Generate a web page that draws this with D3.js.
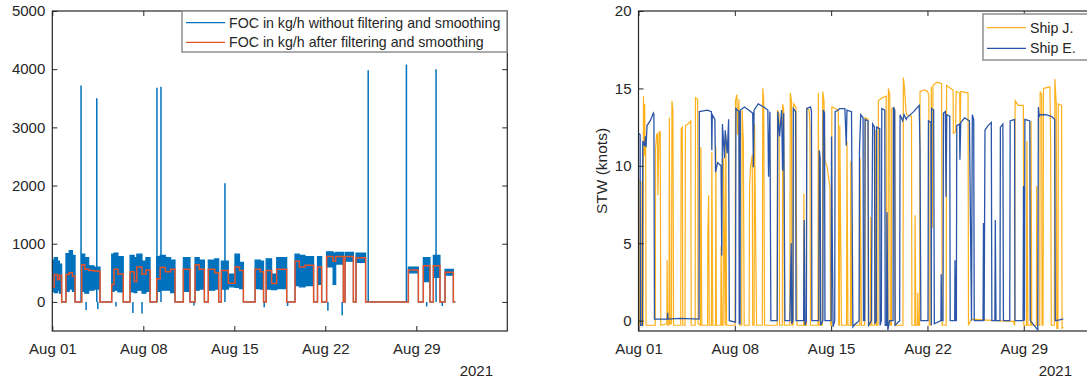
<!DOCTYPE html>
<html>
<head>
<meta charset="utf-8">
<script src="https://cdn.jsdelivr.net/npm/d3@7"></script>
<style>
  body { margin: 0; background: #fff; }
  text { font-family: "Liberation Sans", Arial, sans-serif; }
</style>
</head>
<body>
<svg id="chart" width="1087" height="383"></svg>
<script>
// ---- data (day offsets from 2021-08-01 00:00 UTC) ----
const tickDays = [0, 7, 14, 21, 28];
const focTicks = [0, 1000, 2000, 3000, 4000, 5000];
const stwTicks = [0, 5, 10, 15, 20];

// FOC: segment start day, raw band low / high (kg/h), filtered level (kg/h)
const focStart = [0.00, 0.15, 0.40, 0.55, 0.72, 1.05, 1.30, 1.55, 1.75, 2.26, 2.50, 2.80, 3.20, 3.67,
  4.57, 4.75, 5.05, 5.46, 5.98, 6.30, 6.50, 6.90, 7.20, 7.52, 8.03, 8.30, 8.70, 9.10, 9.44,
  10.08, 10.59, 10.98, 11.30, 11.70, 12.00, 12.50, 12.80, 13.00, 13.54, 14.05, 14.40, 14.70,
  15.60, 16.00, 16.25, 16.45, 16.87, 17.26, 18.03, 18.67, 19.00, 19.44, 20.10, 20.40, 20.72,
  21.10, 21.60, 21.80, 22.39, 22.52, 23.16, 23.36, 24.10, 27.39, 28.16, 28.54, 29.05, 29.31,
  29.82, 30.21, 30.85];
const focLo = [180, 160, 200, 150, 0, 180, 220, 180, 0, 180, 150, 200, 220, 0,
  180, 200, 170, 0, 170, 160, 200, 150, 180, 0, 180, 200, 200, 160, 0,
  180, 0, 200, 220, 0, 200, 220, 0, 220, 260, 250, 230, 0,
  230, 220, 0, 220, 210, 230, 0, 280, 260, 280, 0, 300, 0,
  600, 300, 650, 0, 700, 0, 680, 0, 500, 0, 350, 0, 420,
  0, 460, 0];
const focHi = [720, 760, 700, 650, 0, 830, 880, 800, 0, 820, 760, 620, 600, 0,
  820, 840, 780, 0, 800, 760, 820, 700, 760, 0, 780, 800, 760, 720, 0,
  760, 0, 760, 720, 0, 720, 740, 0, 700, 480, 820, 680, 0,
  720, 700, 0, 740, 480, 760, 0, 820, 800, 780, 0, 780, 0,
  860, 840, 850, 0, 850, 0, 840, 0, 600, 0, 760, 0, 800,
  0, 560, 0];
const focFilt = [250, 470, 380, 460, 0, 470, 500, 440, 0, 640, 560, 540, 530, 0,
  300, 560, 480, 0, 520, 350, 600, 480, 550, 0, 400, 590, 520, 560, 0,
  560, 0, 640, 560, 0, 560, 500, 0, 540, 320, 600, 540, 0,
  560, 520, 0, 540, 315, 560, 0, 700, 600, 630, 0, 600, 0,
  780, 700, 780, 0, 780, 0, 760, 0, 550, 0, 620, 0, 620,
  0, 510, 0];
const focEndDay = 31.0;

// short raw excursions (spikes and dips)
const spikeDay = [2.21, 3.42, 8.05, 8.36, 13.28, 24.30, 27.24, 29.52,
  2.60, 3.50, 4.90, 6.20, 6.90, 10.90, 16.30, 18.10, 21.20, 22.30, 28.80, 30.00];
const spikeVal = [3720, 3500, 3680, 3700, 2040, 3980, 4080, 4000,
  -140, -120, -80, -190, -200, -60, -90, -70, -150, -230, -80, -70];

// STW (knots): [day, value]
const shipJ = [
  [0.00,-0.3],[0.03,9.2],[0.06,-0.3],[0.16,-0.3],[0.18,9.0],[0.21,-0.2],[0.34,-0.3],[0.36,14.5],[0.40,10.7],[0.45,14.0],[0.48,10.6],[0.52,11.5],[0.55,-0.3],
  [1.22,-0.3],[1.24,11.1],[1.32,12.0],[1.38,12.1],[1.41,8.1],[1.50,12.2],[1.58,12.2],[1.62,-0.3],
  [2.06,-0.2],[2.08,3.9],[2.12,-0.3],[2.22,-0.3],[2.24,13.1],[2.30,-0.2],[2.40,-0.2],[2.43,14.2],[2.50,13.6],[2.55,-0.3],
  [3.07,-0.3],[3.10,12.4],[3.18,12.5],[3.22,-0.3],[3.38,-0.3],[3.41,12.6],[3.60,12.7],[3.80,12.9],[3.83,-0.3],
  [4.12,-0.3],[4.14,14.4],[4.30,14.3],[4.33,-0.2],[4.50,-0.3],[4.53,11.2],[4.56,8.0],[4.60,-0.3],
  [5.02,-0.3],[5.04,5.8],[5.10,8.1],[5.14,-0.3],[5.30,-0.3],[5.33,10.9],[5.40,-0.3],[5.60,-0.3],[5.62,11.2],[5.66,-0.3],
  [5.98,-0.3],[6.00,4.8],[6.06,-0.3],[6.15,-0.3],[6.18,10.5],[6.30,-0.3],[6.35,12.0],[6.40,-0.3],
  [7.02,-0.3],[7.05,14.2],[7.15,14.6],[7.20,12.0],[7.30,14.3],[7.36,-0.3],[7.50,-0.3],[7.53,13.6],[7.62,11.5],[7.68,-0.3],
  [8.04,-0.3],[8.07,8.7],[8.15,10.0],[8.27,10.7],[8.30,-0.3],[8.40,-0.3],[8.43,12.7],[8.58,-0.3],
  [9.00,-0.3],[9.03,15.0],[9.10,14.3],[9.16,-0.3],
  [10.08,-0.3],[10.10,13.6],[10.22,13.3],[10.25,-0.3],[10.45,-0.3],[10.48,14.0],[10.55,13.6],[10.60,-0.3],
  [11.00,-0.3],[11.03,14.7],[11.12,14.2],[11.15,-0.3],[11.24,-0.3],[11.27,14.0],[11.44,13.8],[11.52,-0.3],
  [12.00,-0.3],[12.02,8.2],[12.06,-0.3],[12.20,-0.3],[12.23,13.7],[12.40,13.6],[12.46,12.5],[12.50,-0.3],
  [13.04,-0.3],[13.07,14.7],[13.12,-0.3],[13.36,-0.3],[13.39,14.8],[13.48,14.2],[13.55,10.3],[13.70,10.0],[13.91,8.6],[13.96,-0.3],
  [14.02,-0.3],[14.05,13.8],[14.30,13.7],[14.52,13.6],[14.55,-0.3],[14.60,-0.3],[14.63,12.6],[14.75,-0.3],
  [15.12,-0.3],[15.15,11.6],[15.22,-0.3],[15.40,-0.3],[15.43,10.3],[15.49,-0.3],
  [16.08,-0.3],[16.10,10.5],[16.20,-0.3],[16.44,-0.3],[16.47,13.1],[16.68,13.0],[16.71,-0.3],
  [16.85,-0.3],[16.88,6.7],[16.95,-0.3],[17.18,-0.3],[17.20,12.3],[17.30,-0.3],
  [17.40,-0.3],[17.43,14.2],[17.70,14.4],[18.00,14.5],[18.03,-0.3],[18.13,-0.3],[18.16,15.0],[18.26,14.6],[18.29,-0.3],[18.38,-0.3],[18.41,13.7],[18.62,13.6],[18.65,-0.3],
  [19.22,-0.3],[19.25,15.7],[19.33,15.0],[19.44,13.5],[19.50,13.3],[19.84,13.2],[19.87,-0.3],
  [20.08,-0.3],[20.10,6.8],[20.16,-0.3],[20.28,-0.3],[20.30,1.8],[20.34,-0.3],
  [20.43,-0.3],[20.46,14.8],[20.80,14.9],[21.00,14.8],[21.10,14.6],[21.13,-0.3],[21.25,-0.3],[21.28,15.1],[21.35,6.0],[21.40,15.2],[21.70,15.4],[22.03,15.3],[22.07,-0.3],
  [22.36,-0.3],[22.39,15.2],[22.70,15.0],[22.86,14.9],[22.88,12.1],[23.05,12.2],[23.08,14.8],[23.34,14.7],[23.37,11.7],[23.42,14.8],[23.95,14.7],[23.98,-0.3],
  [24.20,0.1],[25.00,0.05],[26.00,0.0],[27.24,-0.05],[27.34,-0.3],[27.37,14.2],[27.60,13.9],[27.97,13.9],[28.00,-0.3],
  [28.20,-0.3],[28.23,11.6],[28.30,-0.3],[28.50,-0.3],[28.53,12.9],[28.58,-0.3],
  [28.92,-0.3],[28.94,8.7],[29.00,-0.3],[29.16,-0.3],[29.19,14.8],[29.30,14.6],[29.33,-0.3],[29.40,-0.3],[29.43,15.0],[29.90,15.1],[29.95,11.5],[30.00,-0.3],
  [30.22,-0.3],[30.26,15.6],[30.36,14.0],[30.40,-0.5],[30.48,-0.5],[30.51,14.0],[30.75,13.9],[30.78,-0.5],[30.87,-0.4]
];
const shipE = [
  [0.00,12.1],[0.12,12.0],[0.14,-0.3],[0.28,-0.3],[0.31,11.6],[0.45,11.3],[0.50,11.9],[0.55,11.2],[0.62,12.6],[0.85,12.9],[1.08,13.4],[1.12,13.3],[1.16,0.1],
  [2.10,0.1],[2.12,0.5],[2.14,0.1],[3.00,0.15],[4.40,0.1],
  [4.42,13.5],[5.00,13.6],[5.30,13.5],[5.33,11.0],[5.36,13.3],[5.55,13.0],[5.60,9.6],[5.75,10.2],[6.00,10.0],[6.05,4.2],[6.10,12.7],[6.25,10.5],[6.30,12.3],[6.45,10.8],[6.55,13.0],[6.60,0.0],
  [7.05,-0.1],[7.08,13.7],[7.30,13.5],[7.32,-0.2],[7.38,-0.2],[7.40,13.6],[7.70,13.8],[8.00,13.6],[8.30,13.4],[8.35,9.9],[8.40,13.6],[8.70,14.0],[9.10,13.8],[9.40,13.6],[9.45,9.3],[9.55,13.5],[9.62,0.0],
  [10.08,0.0],[10.12,13.5],[10.25,11.9],[10.40,13.6],[10.47,9.7],[10.55,13.4],[10.58,9.5],[10.64,0.0],
  [11.00,0.0],[11.10,5.0],[11.14,-0.2],[11.22,0.0],[11.25,13.7],[11.42,13.5],[11.45,0.0],
  [12.00,0.0],[12.04,6.5],[12.10,-0.3],[12.20,0.0],[12.23,13.7],[12.50,13.8],[12.57,13.5],[12.60,0.0],
  [13.10,0.0],[13.14,11.0],[13.20,10.5],[13.24,-0.3],[13.40,0.0],[13.43,13.6],[13.52,13.4],[13.55,0.0],
  [14.00,0.0],[14.03,11.9],[14.08,5.6],[14.14,-0.4],[14.26,0.0],[14.29,13.5],[14.52,13.6],[14.60,13.7],[15.00,13.7],[15.10,11.3],[15.15,13.6],[15.48,13.5],[15.52,8.0],[15.58,-0.4],[15.66,-0.3],
  [16.03,0.0],[16.06,11.0],[16.15,13.3],[16.32,13.1],[16.35,0.0],[16.44,0.0],[16.47,13.0],[16.68,12.9],[16.72,-0.3],
  [16.93,0.0],[16.96,5.8],[17.02,12.7],[17.15,12.5],[17.18,-0.2],[17.28,0.0],[17.31,12.5],[17.53,12.4],[17.56,-0.3],
  [17.65,0.0],[17.68,13.7],[17.90,13.6],[17.93,-0.3],[18.03,-0.3],[18.06,7.0],[18.12,-0.6],[18.25,0.0],[18.50,0.0],[18.53,13.8],[18.62,13.6],[18.65,-0.3],
  [18.98,0.0],[19.01,13.3],[19.20,12.9],[19.30,13.3],[19.46,13.0],[19.50,13.1],[20.00,13.5],[20.40,13.9],[20.46,11.0],[20.52,0.0],
  [21.04,0.0],[21.07,12.9],[21.25,12.8],[21.28,-0.3],[21.30,13.7],[21.45,13.6],[21.50,-0.2],
  [21.98,0.0],[22.00,3.0],[22.03,0.0],[22.13,0.0],[22.16,13.4],[22.30,13.5],[22.35,8.0],[22.40,13.3],[22.62,13.2],[22.65,0.0],
  [22.98,0.0],[23.00,3.9],[23.04,0.0],[23.10,0.0],[23.13,12.6],[23.33,12.7],[23.36,10.4],[23.42,12.8],[23.70,13.1],[24.05,12.9],[24.20,0.0],[24.26,13.3],[24.36,13.0],[24.40,0.0],
  [25.04,0.0],[25.07,6.3],[25.12,0.0],[25.18,12.3],[25.40,12.6],[25.64,12.8],[25.68,0.0],
  [25.90,0.0],[25.93,6.5],[25.98,0.0],[26.27,0.0],[26.30,12.5],[26.48,12.7],[26.52,0.0],
  [26.98,0.0],[27.01,12.9],[27.33,13.0],[27.36,0.0],
  [27.95,0.0],[27.98,8.7],[28.05,0.0],[28.08,13.0],[28.44,12.9],[28.47,0.0],
  [29.02,-0.6],[29.06,13.8],[29.12,13.2],[29.18,13.3],[29.60,13.3],[30.00,13.2],[30.25,13.0],[30.29,0.0],[30.60,0.05],[30.80,0.1],[30.87,0.1]
];

const focNames = ['FOC in kg/h without filtering and smoothing', 'FOC in kg/h after filtering and smoothing'];
const shipNames = ['Ship J.', 'Ship E.'];

// ---- setup ----
const ink = '#262626';
const cRaw = '#0072BD', cFilt = '#e4532a';
const cJ = '#fdb11c', cE = '#2a55a8';
const t0 = Date.UTC(2021, 7, 1);
const toDate = d => new Date(t0 + d * 864e5);
const fmt = d3.utcFormat('%b %d');

const svg = d3.select('#chart');

function panel(id, left, right, yDomain, yTicks) {
  const top = 11, bottom = 331;
  const x = d3.scaleUtc().domain([toDate(0), toDate(35)]).range([left, right]);
  const y = d3.scaleLinear().domain(yDomain).range([bottom, top]);
  const g = svg.append('g');
  g.append('clipPath').attr('id', id).append('rect')
    .attr('x', left).attr('y', top).attr('width', right - left).attr('height', bottom - top);
  const plot = g.append('g').attr('clip-path', `url(#${id})`);
  const ax = g.append('g');

  const xt = tickDays.map(toDate);
  const style = sel => sel.attr('font-size', 15).attr('font-family', null).attr('color', ink)
    .call(s => s.select('.domain').remove())
    .call(s => s.selectAll('text').attr('fill', ink));

  ax.append('g').attr('transform', `translate(0,${bottom})`)
    .call(d3.axisBottom(x).tickValues(xt).tickFormat(fmt).tickSizeInner(-5).tickSizeOuter(0).tickPadding(12))
    .call(style);
  ax.append('g').attr('transform', `translate(0,${top})`)
    .call(d3.axisTop(x).tickValues(xt).tickFormat('').tickSizeInner(-5).tickSizeOuter(0))
    .call(style);
  ax.append('g').attr('transform', `translate(${left},0)`)
    .call(d3.axisLeft(y).tickValues(yTicks).tickFormat(d3.format('d')).tickSizeInner(-5).tickSizeOuter(0).tickPadding(7))
    .call(style);
  ax.append('g').attr('transform', `translate(${right},0)`)
    .call(d3.axisRight(y).tickValues(yTicks).tickFormat('').tickSizeInner(-5).tickSizeOuter(0))
    .call(style);
  ax.selectAll('.tick line').attr('stroke', ink).attr('stroke-width', 1);
  ax.append('rect').attr('x', left).attr('y', top).attr('width', right - left).attr('height', bottom - top)
    .attr('fill', 'none').attr('stroke', ink).attr('stroke-width', 1.2);
  return { x, y, plot, g };
}

// ---- left panel: FOC ----
const L = panel('clipL', 52.3, 507.3, [-500, 5000], focTicks);
const segs = focStart.map((s, i) => ({ t: s, lo: focLo[i], hi: focHi[i], f: focFilt[i] }));
segs.push({ t: focEndDay, lo: 0, hi: 0, f: 0 });

L.plot.append('path').datum(segs)
  .attr('d', d3.area().curve(d3.curveStepAfter)
    .x(d => L.x(toDate(d.t))).y0(d => L.y(d.lo)).y1(d => L.y(d.hi)))
  .attr('fill', cRaw).attr('stroke', cRaw).attr('stroke-width', 1.2);

const vline = d3.line().x(d => L.x(toDate(d[0]))).y(d => L.y(d[1]));
L.plot.selectAll('.spike').data(spikeDay.map((t, i) => [[t, 0], [t, spikeVal[i]]]))
  .join('path').attr('class', 'spike').attr('d', vline)
  .attr('fill', 'none').attr('stroke', cRaw).attr('stroke-width', 1.5);

L.plot.append('path').datum(segs)
  .attr('d', d3.line().curve(d3.curveStepAfter).x(d => L.x(toDate(d.t))).y(d => L.y(d.f)))
  .attr('fill', 'none').attr('stroke', cFilt).attr('stroke-width', 1.5);

L.g.append('text').attr('x', 493).attr('y', 376).attr('text-anchor', 'end')
  .attr('font-size', 15).attr('fill', ink).text('2021');

// legend
const lg = L.g.append('g');
lg.append('rect').attr('x', 182).attr('y', 11).attr('width', 325).attr('height', 41)
  .attr('fill', '#fff').attr('stroke', '#8f8f8f').attr('stroke-width', 1.5);
[cRaw, cFilt].forEach((c, i) => {
  const yy = 22.7 + i * 19.6;
  lg.append('line').attr('x1', 186).attr('x2', 225).attr('y1', yy).attr('y2', yy)
    .attr('stroke', c).attr('stroke-width', 1.2);
  lg.append('text').attr('x', 229).attr('y', yy).attr('dy', '0.35em')
    .attr('font-size', 14.2).attr('fill', ink).text(focNames[i]);
});

// ---- right panel: STW ----
const R = panel('clipR', 638.5, 1120.1, [-0.67, 20], stwTicks);
const sline = d3.line().x(d => R.x(toDate(d[0]))).y(d => R.y(d[1]));
R.plot.append('path').datum(shipJ).attr('d', sline)
  .attr('fill', 'none').attr('stroke', cJ).attr('stroke-width', 1.2);
R.plot.append('path').datum(shipE).attr('d', sline)
  .attr('fill', 'none').attr('stroke', cE).attr('stroke-width', 1.3);

R.g.append('text').attr('transform', 'translate(607,171) rotate(-90)')
  .attr('text-anchor', 'middle').attr('font-size', 15.5).attr('fill', ink).text('STW (knots)');
R.g.append('text').attr('x', 1072).attr('y', 376).attr('text-anchor', 'end')
  .attr('font-size', 15).attr('fill', ink).text('2021');

const rg = R.g.append('g');
rg.append('rect').attr('x', 983).attr('y', 14).attr('width', 140).attr('height', 46)
  .attr('fill', '#fff').attr('stroke', '#8f8f8f').attr('stroke-width', 1.5);
[cJ, cE].forEach((c, i) => {
  const yy = 27.7 + i * 20.6;
  rg.append('line').attr('x1', 987).attr('x2', 1026).attr('y1', yy).attr('y2', yy)
    .attr('stroke', c).attr('stroke-width', 1.2);
  rg.append('text').attr('x', 1030).attr('y', yy).attr('dy', '0.35em')
    .attr('font-size', 14.2).attr('fill', ink).text(shipNames[i]);
});
</script>
</body>
</html>
